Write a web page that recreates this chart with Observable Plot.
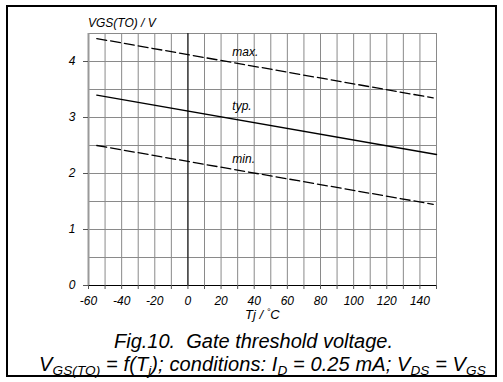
<!DOCTYPE html>
<html>
<head>
<meta charset="utf-8">
<script src="https://cdn.jsdelivr.net/npm/d3@7"></script>
<script src="https://cdn.jsdelivr.net/npm/@observablehq/plot@0.6"></script>
<style>
  html, body { margin: 0; padding: 0; background: #fff; }
  body { width: 503px; height: 382px; position: relative; overflow: hidden;
         font-family: "Liberation Sans", Arial, sans-serif; font-style: italic; color: #000; }
  #frame { position: absolute; left: 6px; top: 5px; width: 487px; height: 368px; border: 2px solid #000; }
  #chart { position: absolute; left: 0; top: 0; }
  .t { position: absolute; white-space: nowrap; }
  sub { font-size: 0.68em; vertical-align: -0.3em; line-height: 0; }
  sup { font-size: 0.7em; vertical-align: 0.45em; line-height: 0; }
</style>
</head>
<body>
<div id="frame"></div>
<div id="chart"></div>
<div class="t" id="ylab" style="left:88px; top:17px; font-size:12px; line-height:12px;">VGS(TO) / V</div>
<div class="t" id="xlab" style="left:245px; top:308px; font-size:13px; line-height:13px;">Tj / <sup>°</sup>C</div>
<div class="t" style="left:0; width:503px; text-align:center; top:331px; font-size:20px; line-height:20px; padding-left:2px;">Fig.10.&nbsp; Gate threshold voltage.</div>
<div class="t" style="left:39px; top:354px; font-size:20px; line-height:20px; letter-spacing:0.1px;">V<sub>GS(TO)</sub> = f(T<sub>j</sub>); conditions: I<sub>D</sub> = 0.25 mA; V<sub>DS</sub> = V<sub>GS</sub></div>
<script>
// Junction temperature (°C) and threshold voltage (V)
const tempMax = [-55, 148];
const vMax    = [4.41, 3.35];
const tempTyp = [-55, 150];
const vTyp    = [3.40, 2.34];
const tempMin = [-55, 148];
const vMin    = [2.50, 1.45];

// Curve labels
const labelNames = ["max.", "typ.", "min."];
const labelT     = [26.8, 26.8, 26.8];
const labelV     = [4.16, 3.20, 2.26];

// Axis ticks and grid
const xTicks = [-60, -40, -20, 0, 20, 40, 60, 80, 100, 120, 140];
const xGrid  = [-60, -50, -40, -30, -20, -10, 0, 10, 20, 30, 40, 50, 60, 70, 80, 90, 100, 110, 120, 130, 140, 150];
const yTicks = [0, 1, 2, 3, 4];
const yGrid  = [0.5, 1, 1.5, 2, 2.5, 3, 3.5, 4, 4.5];

const maxData = tempMax.map((t, i) => ({t, v: vMax[i]}));
const typData = tempTyp.map((t, i) => ({t, v: vTyp[i]}));
const minData = tempMin.map((t, i) => ({t, v: vMin[i]}));
const labels  = labelNames.map((name, i) => ({name, t: labelT[i], v: labelV[i]}));

const chart = Plot.plot({
  width: 503,
  height: 330,
  marginLeft: 88,
  marginRight: 67,
  marginTop: 33,
  marginBottom: 45,
  style: {fontFamily: "Liberation Sans, Arial, sans-serif", fontStyle: "italic", fontSize: "12px", color: "#000", background: "transparent"},
  x: {domain: [-60, 150]},
  y: {domain: [0, 4.5]},
  marks: [
    Plot.ruleX(xGrid, {stroke: "#8a8a8a", strokeWidth: 1}),
    Plot.ruleY(yGrid, {stroke: "#8a8a8a", strokeWidth: 1}),
    Plot.ruleX([-60], {stroke: "#999", strokeWidth: 2}),
    Plot.ruleX([0], {stroke: "#000", strokeWidth: 1}),
    Plot.ruleY([0], {stroke: "#000", strokeWidth: 1.2}),
    Plot.axisX({ticks: xGrid, tickSize: 4, tickPadding: 7, label: null, tickFormat: d => xTicks.includes(d) ? String(d) : "", fontSize: 12, stroke: "#555"}),
    Plot.axisY({ticks: yTicks, tickSize: 5, tickPadding: 8, label: null, tickFormat: d => String(d), fontSize: 12, stroke: "#555"}),
    Plot.line(maxData, {x: "t", y: "v", stroke: "#000", strokeWidth: 1.3, strokeDasharray: "10,4"}),
    Plot.line(typData, {x: "t", y: "v", stroke: "#000", strokeWidth: 1.4}),
    Plot.line(minData, {x: "t", y: "v", stroke: "#000", strokeWidth: 1.3, strokeDasharray: "10,4"}),
    Plot.text(labels, {x: "t", y: "v", text: "name", textAnchor: "start", fontSize: 12, fill: "#000"})
  ]
});
document.getElementById("chart").appendChild(chart);
</script>
</body>
</html>
